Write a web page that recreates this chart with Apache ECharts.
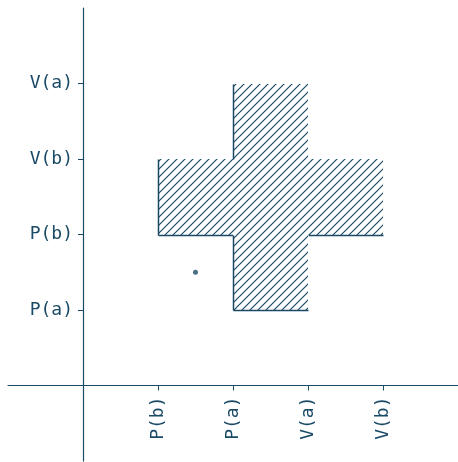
<!DOCTYPE html>
<html>
<head>
<meta charset="utf-8">
<script src="https://cdn.jsdelivr.net/npm/echarts@6/dist/echarts.min.js"></script>
<style>
  html, body { margin: 0; padding: 0; background: #fff; }
  #chart { width: 458px; height: 462px; }
</style>
</head>
<body>
<div id="chart"></div>
<script>
var tickValues = [1, 2, 3, 4];
var xLabels = ['P(b)', 'P(a)', 'V(a)', 'V(b)'];
var yLabels = ['P(a)', 'P(b)', 'V(b)', 'V(a)'];
// rectangles: [x0, x1, y0, y1]
var rects = [
  [1, 4, 2, 3],
  [2, 3, 1, 4]
];
var points = [[1.5, 1.5]];

var ink = '#1b4a66';

// diagonal hatch tile (opaque, so overlapping fills look the same)
var tile = document.createElement('canvas');
tile.width = 8; tile.height = 8;
var c = tile.getContext('2d');
c.fillStyle = '#fff';
c.fillRect(0, 0, 8, 8);
c.strokeStyle = ink;
c.lineWidth = 1.2;
c.beginPath();
c.moveTo(-1, 9); c.lineTo(9, -1);
c.moveTo(-1, 1); c.lineTo(1, -1);
c.moveTo(7, 9); c.lineTo(9, 7);
c.stroke();

// cut an interval [a, b] by the intervals in cuts
function subtract(a, b, cuts) {
  var parts = [[a, b]];
  cuts.forEach(function (cut) {
    var next = [];
    parts.forEach(function (p) {
      if (cut[1] <= p[0] || cut[0] >= p[1]) { next.push(p); return; }
      if (cut[0] > p[0]) next.push([p[0], cut[0]]);
      if (cut[1] < p[1]) next.push([cut[1], p[1]]);
    });
    parts = next;
  });
  return parts;
}

// left and bottom edges of the union, in data units
function outlineOf(i) {
  var r = rects[i];
  var leftCuts = [], bottomCuts = [];
  rects.forEach(function (o, j) {
    if (j === i) return;
    if (o[0] < r[0] && r[0] < o[1]) leftCuts.push([o[2], o[3]]);
    if (o[2] < r[2] && r[2] < o[3]) bottomCuts.push([o[0], o[1]]);
  });
  var segs = [];
  subtract(r[2], r[3], leftCuts).forEach(function (p) { segs.push([[r[0], p[0]], [r[0], p[1]]]); });
  subtract(r[0], r[1], bottomCuts).forEach(function (p) { segs.push([[p[0], r[2]], [p[1], r[2]]]); });
  return segs;
}

var ele = document.getElementById('chart');
var myChart = echarts.init(ele);

var gridBox = { left: 8, right: 0, top: 8, bottom: 1 };

var option = {
  animation: false,
  grid: { left: gridBox.left, right: gridBox.right, top: gridBox.top, bottom: gridBox.bottom,
    containLabel: false, outerBoundsMode: 'none' },
  xAxis: {
    type: 'value', min: -1, max: 5, position: 'bottom',
    axisLine: { onZero: false, lineStyle: { color: ink, width: 1.2 } },
    axisTick: { show: true, customValues: tickValues, length: 5, lineStyle: { color: ink } },
    axisLabel: {
      customValues: tickValues, rotate: 90, color: ink, margin: 11,
      fontFamily: 'DejaVu Sans Mono', fontSize: 18,
      formatter: function (v) { return xLabels[v - 1]; }
    },
    splitLine: { show: false }
  },
  yAxis: {
    type: 'value', min: -1, max: 5, position: 'left',
    axisLine: { show: true, onZero: false, lineStyle: { color: ink, width: 1.2 } },
    axisTick: { show: true, customValues: tickValues, length: 5, lineStyle: { color: ink } },
    axisLabel: {
      customValues: tickValues, color: ink, margin: 10,
      fontFamily: 'DejaVu Sans Mono', fontSize: 18,
      formatter: function (v) { return yLabels[v - 1]; }
    },
    splitLine: { show: false }
  },
  series: [
    {
      type: 'custom',
      data: rects,
      renderItem: function (params, api) {
        var p0 = api.coord([api.value(0), api.value(2)]);
        var p1 = api.coord([api.value(1), api.value(3)]);
        var x = Math.round(p0[0]), y = Math.round(p1[1]);
        var w = Math.round(p1[0]) - x, h = Math.round(p0[1]) - y;
        var children = [
          { type: 'rect', shape: { x: x, y: y, width: w, height: h },
            style: { fill: { image: tile, repeat: 'repeat' }, stroke: null } }
        ];
        outlineOf(params.dataIndex).forEach(function (s) {
          var a = api.coord(s[0]), b = api.coord(s[1]);
          children.push({
            type: 'line',
            shape: { x1: Math.round(a[0]) + 0.5, y1: Math.round(a[1]) + 0.5,
                     x2: Math.round(b[0]) + 0.5, y2: Math.round(b[1]) + 0.5 },
            style: { stroke: ink, lineWidth: 1.5 }
          });
        });
        return { type: 'group', children: children };
      }
    },
    {
      type: 'scatter',
      data: points,
      symbolSize: 5,
      itemStyle: { color: ink }
    }
  ]
};
myChart.setOption(option);

// move both axes (line, ticks and labels) to the zero crossing
var origin = myChart.convertToPixel({ gridIndex: 0 }, [0, 0]);
myChart.setOption({
  xAxis: { offset: -(462 - gridBox.bottom - origin[1]) },
  yAxis: { offset: -(origin[0] - gridBox.left) }
});
</script>
</body>
</html>
